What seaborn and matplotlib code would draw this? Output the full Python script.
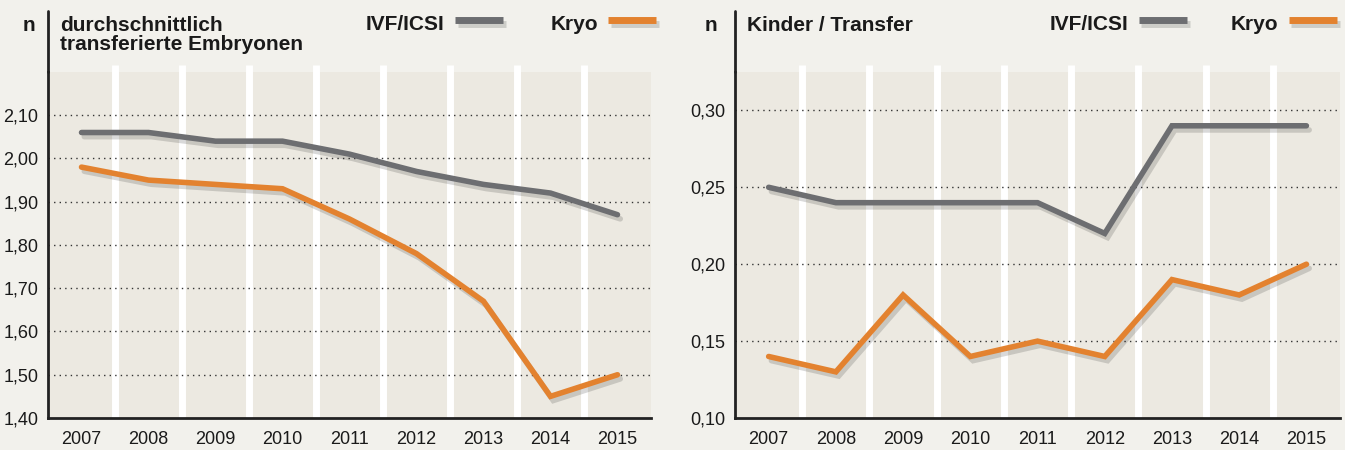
import pandas as pd
import matplotlib.pyplot as plt
import matplotlib.patheffects as pe
from matplotlib.lines import Line2D
import seaborn as sns

years = [2007, 2008, 2009, 2010, 2011, 2012, 2013, 2014, 2015]

# durchschnittlich transferierte Embryonen
emb_ivf = [2.06, 2.06, 2.04, 2.04, 2.01, 1.97, 1.94, 1.92, 1.87]
emb_kryo = [1.98, 1.95, 1.94, 1.93, 1.86, 1.78, 1.67, 1.45, 1.50]

# Kinder / Transfer
kind_ivf = [0.25, 0.24, 0.24, 0.24, 0.24, 0.22, 0.29, 0.29, 0.29]
kind_kryo = [0.14, 0.13, 0.18, 0.14, 0.15, 0.14, 0.19, 0.18, 0.20]

emb_ticks = [1.40, 1.50, 1.60, 1.70, 1.80, 1.90, 2.00, 2.10]
kind_ticks = [0.10, 0.15, 0.20, 0.25, 0.30]

GRAU = "#6d6e71"
ORANGE = "#e3822f"
BG = "#f2f1ec"
PLOT_BG = "#ece9e1"

sns.set_style("white")
plt.rcParams['font.family'] = ['Liberation Sans Narrow', 'Liberation Sans', 'DejaVu Sans']

fig = plt.figure(figsize=(13.45, 4.5), dpi=100, facecolor=BG)
ax1 = fig.add_axes([0.0357, 0.0711, 0.4483, 0.769])
ax2 = fig.add_axes([0.5465, 0.0711, 0.4498, 0.769])

schatten = [pe.SimpleLineShadow(offset=(2, -3), alpha=0.15, shadow_color="black"), pe.Normal()]


def panel(ax, ivf, kryo, ticks, ylim, titel, n_x, leg):
    df = pd.DataFrame({
        "Jahr": years * 2,
        "Wert": ivf + kryo,
        "Gruppe": ["IVF/ICSI"] * len(years) + ["Kryo"] * len(years),
    })
    ax.set_facecolor(PLOT_BG)
    for x in years[:-1]:
        ax.axvline(x + 0.5, ymin=0, ymax=1.02, color="white", lw=5, clip_on=False, zorder=1,
                   solid_capstyle="butt")
    for t in ticks[1:]:
        ax.axhline(t, color="#333333", lw=1.0, ls=(0, (1, 3)), zorder=1.5)
    sns.lineplot(data=df, x="Jahr", y="Wert", hue="Gruppe", palette={"IVF/ICSI": GRAU, "Kryo": ORANGE},
                 lw=4, ax=ax, legend=False, zorder=3, path_effects=schatten, solid_joinstyle="miter")
    ax.set_xlim(2006.5, 2015.5)
    ax.set_ylim(*ylim)
    ax.set_xticks(years)
    ax.set_xticklabels([str(y) for y in years], fontsize=13, color="#1a1a1a")
    ax.set_yticks(ticks)
    ax.set_yticklabels(["{:.2f}".format(t).replace(".", ",") for t in ticks], fontsize=13, color="#1a1a1a")
    ax.tick_params(axis="x", length=0, pad=9)
    ax.tick_params(axis="y", length=0, pad=7)
    ax.set_xlabel("")
    ax.set_ylabel("")
    for s in ["top", "right"]:
        ax.spines[s].set_visible(False)
    for s in ["left", "bottom"]:
        ax.spines[s].set_color("#222222")
        ax.spines[s].set_linewidth(2)
    ax.add_line(Line2D([0, 0], [1, 1.175], transform=ax.transAxes, color="#222222", lw=2, clip_on=False))
    ax.text(n_x, 1.133, "n", transform=ax.transAxes, fontsize=15, fontweight="bold", ha="right", va="center",
            color="#1a1a1a")
    ax.text(0.02, 1.163, titel, transform=ax.transAxes, fontsize=15, fontweight="bold", ha="left", va="top",
            color="#1a1a1a", linespacing=1.05)
    # Legende
    for lx, name, col in zip(leg, ["IVF/ICSI", "Kryo"], [GRAU, ORANGE]):
        ax.text(lx, 1.138, name, transform=ax.transAxes, fontsize=15, fontweight="bold", ha="right", va="center",
                color="#1a1a1a")
        ax.add_line(Line2D([lx + 0.017, lx + 0.097], [1.15, 1.15], transform=ax.transAxes, color=col, lw=5,
                           clip_on=False, solid_capstyle="butt", path_effects=schatten))


panel(ax1, emb_ivf, emb_kryo, emb_ticks, (1.40, 2.20), "durchschnittlich\ntransferierte Embryonen", -0.022,
      [0.658, 0.912])
panel(ax2, kind_ivf, kind_kryo, kind_ticks, (0.10, 0.325), "Kinder / Transfer", -0.03, [0.65, 0.898])

fig.savefig("out.png", dpi=100, facecolor=BG)
